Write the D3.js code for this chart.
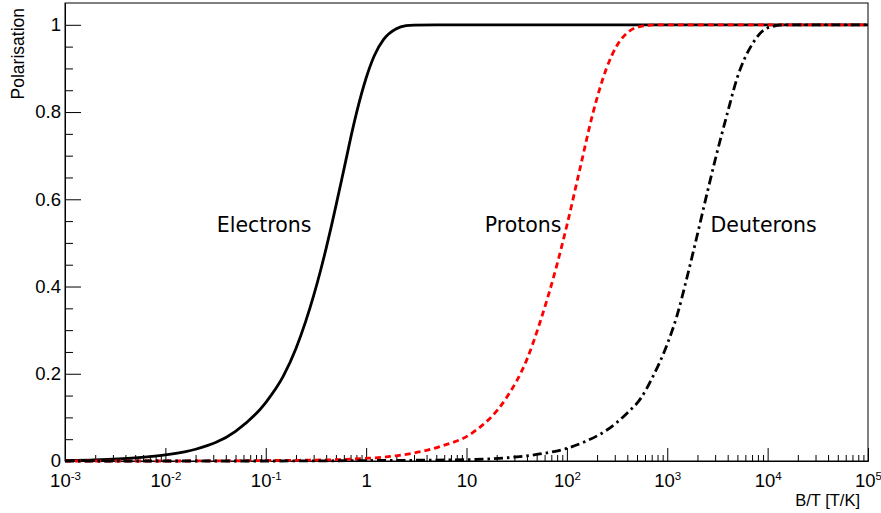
<!DOCTYPE html>
<html>
<head>
	<meta charset="UTF-8" />
	<title>polarisation</title>
	<script src="https://d3js.org/d3.v7.min.js"></script>
	<style>
		body { margin: 0; background: #fff; }
		text { font-family: "Liberation Sans", Arial, sans-serif; fill: #000; }
	</style>
</head>
<body>
	<svg id="chart" width="881" height="513"></svg>

	<script type="text/javascript">
	// values (B/T in T/K, polarisation)
	var electronX = [0.001, 0.002, 0.005, 0.01, 0.02, 0.05, 0.1, 0.15, 0.2, 0.25, 0.3, 0.35, 0.4, 0.45, 0.5, 0.6, 0.75, 0.9, 1, 1.2, 1.5, 2, 2.5, 3, 5, 1e5]
	var electronY = [0.0014, 0.0027, 0.007, 0.014, 0.027, 0.068, 0.134, 0.195, 0.258, 0.32, 0.379, 0.435, 0.488, 0.538, 0.585, 0.668, 0.77, 0.842, 0.878, 0.928, 0.967, 0.991, 0.998, 0.9995, 1, 1]

	var protonX = [0.001, 0.01, 0.1, 0.5, 1, 2, 5.4, 11.7, 25, 40, 54, 79, 100, 135, 183, 248, 320, 393, 533, 800, 1e5]
	var protonY = [0, 0, 0.001, 0.003, 0.006, 0.012, 0.033, 0.066, 0.145, 0.233, 0.318, 0.447, 0.54, 0.67, 0.80, 0.90, 0.955, 0.98, 0.996, 1, 1]

	var deuteronX = [0.001, 0.1, 1, 10, 30, 50, 100, 150, 250, 400, 550, 700, 1000, 1250, 1550, 2000, 2500, 3000, 4000, 5000, 7000, 10000, 15000, 1e5]
	var deuteronY = [0, 0, 0.001, 0.003, 0.009, 0.015, 0.029, 0.044, 0.071, 0.11, 0.145, 0.188, 0.268, 0.333, 0.415, 0.52, 0.615, 0.69, 0.80, 0.88, 0.955, 0.993, 1, 1]

	var xMajorTicks = [1e-3, 1e-2, 1e-1, 1, 10, 1e2, 1e3, 1e4, 1e5]
	var xTickLabels = [["10", "-3"], ["10", "-2"], ["10", "-1"], ["1", ""], ["10", ""], ["10", "2"], ["10", "3"], ["10", "4"], ["10", "5"]]
	var yMajorTicks = [0, 0.2, 0.4, 0.6, 0.8, 1]
	var yTickLabels = ["0", "0.2", "0.4", "0.6", "0.8", "1"]

	var curveNames = ["Electrons", "Protons", "Deuterons"]
	// label anchor (left end of text, baseline) in data units
	var labelX = [0.0325, 15.2, 2700]
	var labelY = [0.525, 0.525, 0.525]

	var svg = d3.select("#chart")
	var padLeft = 65, padRight = 868, padTop = 3, padBottom = 461

	var xScale = d3.scaleLog().domain([1e-3, 1e5]).range([padLeft, padRight])
	var yScale = d3.scaleLinear().domain([0, 1.05]).range([padBottom, padTop])

	// minor ticks
	var xMinor = []
	for (var k = -3; k < 5; k++) {
		for (var m = 2; m <= 9; m++) xMinor.push(m * Math.pow(10, k))
	}
	var yMinor = []
	for (var i = 1; i <= 20; i++) if (i % 4 != 0) yMinor.push(i * 0.05)

	// frame
	svg.append("rect")
		.attr("x", padLeft).attr("y", padTop)
		.attr("width", padRight - padLeft).attr("height", padBottom - padTop)
		.style("fill", "none").style("stroke", "#000").style("stroke-width", 1)

	// x axis
	var xAxisMinor = d3.axisBottom(xScale).tickValues(xMinor).tickSizeInner(-6).tickSizeOuter(0).tickFormat("")
	svg.append("g").attr("transform", `translate(0,${padBottom})`).call(xAxisMinor)

	var xAxis = d3.axisBottom(xScale).tickValues(xMajorTicks).tickSizeInner(-13).tickSizeOuter(0).tickPadding(13)
		.tickFormat("")
	var xg = svg.append("g").attr("id", "xAxisG").attr("transform", `translate(0,${padBottom})`).call(xAxis)
	xg.selectAll(".tick text").each(function(d, idx) {
		var t = d3.select(this)
		var lab = xTickLabels[idx]
		t.text(null).style("font-size", "18.5px")
		t.append("tspan").text(lab[0])
		if (lab[1] != "") {
			t.append("tspan").text(lab[1]).attr("dy", "-7").style("font-size", "11.5px")
		}
	})

	// y axis
	var yAxisMinor = d3.axisLeft(yScale).tickValues(yMinor).tickSizeInner(-8).tickSizeOuter(0).tickFormat("")
	svg.append("g").attr("transform", `translate(${padLeft},0)`).call(yAxisMinor)

	var yAxis = d3.axisLeft(yScale).tickValues(yMajorTicks).tickSizeInner(-16).tickSizeOuter(0).tickPadding(4)
		.tickFormat((d, idx) => yTickLabels[idx])
	svg.append("g").attr("id", "yAxisG").attr("transform", `translate(${padLeft},0)`).call(yAxis)
		.selectAll("text").style("font-size", "18.5px")

	svg.selectAll(".domain").style("stroke", "#000")
	svg.selectAll(".tick line").style("stroke", "#000")
	svg.selectAll(".tick text").attr("font-family", null)

	// axis titles
	svg.append("text")
		.attr("transform", "translate(24,8) rotate(-90)")
		.attr("text-anchor", "end")
		.style("font-size", "17.5px")
		.text("Polarisation")

	svg.append("text")
		.attr("x", 860).attr("y", 506)
		.attr("text-anchor", "end")
		.style("font-size", "16.5px")
		.text("B/T [T/K]")

	// curves
	var line = d3.line()
		.x(d => xScale(d[0]))
		.y(d => yScale(d[1]))
		.curve(d3.curveMonotoneX)

	var series = [
		{ xs: electronX, ys: electronY, color: "#000", dash: null },
		{ xs: protonX, ys: protonY, color: "#ff0000", dash: "6,4" },
		{ xs: deuteronX, ys: deuteronY, color: "#000", dash: "9,4,2.5,4" }
	]

	series.forEach(s => {
		var pts = s.xs.map((x, j) => [x, s.ys[j]])
		svg.append("path")
			.attr("d", line(pts))
			.style("fill", "none")
			.style("stroke", s.color)
			.style("stroke-width", 2.8)
			.style("stroke-dasharray", s.dash)
	})

	// curve labels
	curveNames.forEach((name, j) => {
		svg.append("text")
			.attr("x", xScale(labelX[j]))
			.attr("y", yScale(labelY[j]))
			.style("font-family", "'DejaVu Sans', sans-serif")
			.style("font-size", "20.5px")
			.text(name)
	})
	</script>
</body>
</html>
